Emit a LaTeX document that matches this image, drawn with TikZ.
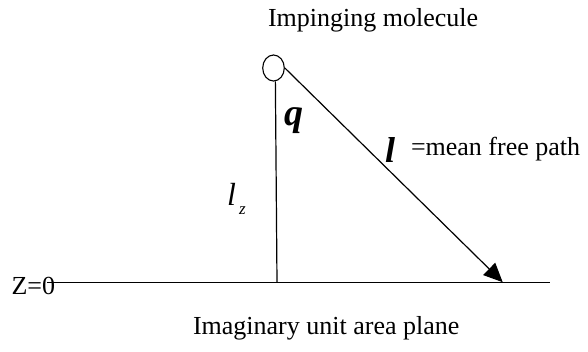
\documentclass[tikz,border=0pt]{standalone}
\usepackage{fontspec}
\setmainfont{Liberation Serif}
\usetikzlibrary{arrows.meta,shapes.geometric}
\begin{document}
\begin{tikzpicture}[x=1pt,y=-1pt,
  lbl/.style={inner sep=0pt,outer sep=0pt,anchor=base west,font=\fontsize{26}{30}\selectfont},
  sym/.style={inner sep=0pt,outer sep=0pt,anchor=base west,font=\fontsize{38}{42}\selectfont\bfseries\itshape},
  ln/.style={line width=1.2pt,black},
  mol/.style={draw,line width=1.1pt,ellipse,minimum width=21.6pt,minimum height=26pt,inner sep=0pt}]
\useasboundingbox (0,0) rectangle (588,351);
\node[lbl] (top) at (268,26.7) {Impinging molecule};
\node[mol] (m) at (273.5,68) {};
\coordinate (foot) at (277,282.7);
\coordinate (zl) at (47,282.7);
\coordinate (zr) at (550,282.7);
\coordinate (tip) at (502.7,282.2);
\draw[ln] (zl) -- (zr);
\draw[ln] (m.-82) -- (foot);
\draw[ln,-{Triangle[length=19pt,width=17pt]}] (m.east) -- (tip);
\node[sym] (q) at (284,125) {q};
\node[sym,font=\fontsize{36}{40}\selectfont\bfseries\itshape] (l) at (385,162) {l};
\node[lbl] (mfp) at (411,155) {=mean free path};
\node[lbl,font=\fontsize{32}{36}\selectfont\itshape] (lz) at (227,205) {l};
\node[lbl,font=\fontsize{17}{19}\selectfont\itshape] (zs) at (239,214.3) {z};
\node[lbl] (z0) at (11.5,294.3) {Z=0};
\node[lbl] (bot) at (193,334) {Imaginary unit area plane};
\end{tikzpicture}
\end{document}
